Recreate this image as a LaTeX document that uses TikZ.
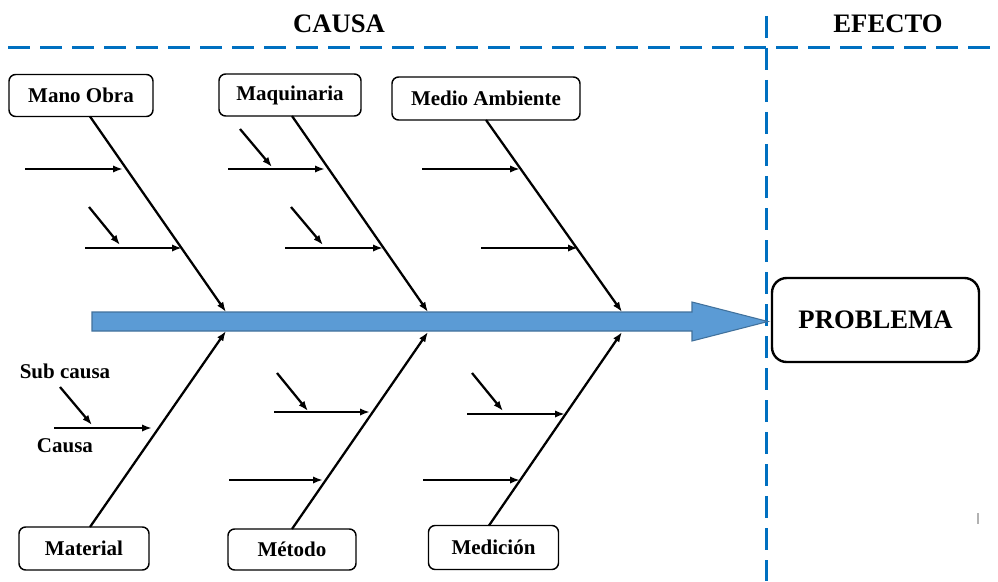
\documentclass[tikz,border=0pt]{standalone}
\usepackage{fontspec}
\setmainfont{Liberation Serif}
\usetikzlibrary{arrows.meta}
\definecolor{dblue}{RGB}{0,112,192}
\definecolor{afill}{RGB}{91,155,213}
\definecolor{aline}{RGB}{65,113,156}
\begin{document}
\begin{tikzpicture}[x=0.75pt,y=-0.75pt,
  box/.style={draw, line width=1.1pt, rounded corners=5pt, inner sep=0pt,
    font=\fontsize{15.75}{18}\selectfont\bfseries},
  bigbox/.style={draw, line width=1.8pt, rounded corners=11pt, inner sep=0pt,
    font=\fontsize{20}{24}\selectfont\bfseries},
  title/.style={font=\fontsize{20}{24}\selectfont\bfseries, inner sep=0pt},
  lbl/.style={font=\fontsize{15.75}{18}\selectfont\bfseries, inner sep=0pt},
  bone/.style={line width=1.7pt, -{Latex[length=7.5pt,width=5.5pt]}},
  dashline/.style={draw=dblue, line width=2.25pt, dash pattern=on 16.5pt off 7.5pt}]
\useasboundingbox (0,0) rectangle (998,581);

% dashed frame lines
\draw[dashline] (8,48) -- (998,48);
\draw[dashline] (766,16) -- (766,581);

% titles
\node[title] (causa) at (339,24) {CAUSA};
\node[title] (efecto) at (888,24) {EFECTO};

% main arrow
\coordinate (tip) at (768,321.5);
\draw[aline, fill=afill, line width=0.8pt]
  (92,312) -- (692,312) -- (692,302) -- (tip) -- (692,341) -- (692,331) -- (92,331) -- cycle;

% boxes
\node[box, minimum width=144*0.75pt, minimum height=42*0.75pt] (mano) at (81,95.5) {Mano Obra};
\node[box, minimum width=142*0.75pt, minimum height=42*0.75pt] (maq) at (290,95) {Maquinaria};
\node[box, minimum width=188*0.75pt, minimum height=43*0.75pt] (amb) at (486,98.5) {Medio Ambiente};
\node[box, minimum width=130*0.75pt, minimum height=43*0.75pt] (mat) at (84,548.5) {Material};
\node[box, minimum width=128*0.75pt, minimum height=41*0.75pt] (met) at (292,549.5) {Método};
\node[box, minimum width=130*0.75pt, minimum height=44*0.75pt] (med) at (493.5,547.5) {Medición};
\node[bigbox, minimum width=207*0.75pt, minimum height=84*0.75pt] (prob) at (875.5,320) {PROBLEMA};

% side labels
\node[lbl] (subcausa) at (65,371) {Sub causa};
\node[lbl] (causalbl) at (65,446) {Causa};

% bone coordinates
\coordinate (manoS) at (90,116.5);  \coordinate (manoE) at (226,312);
\coordinate (maqS) at (292,116);    \coordinate (maqE) at (428,312);
\coordinate (ambS) at (486,120);    \coordinate (ambE) at (622,312);
\coordinate (matS) at (90,527);     \coordinate (matE) at (226,331);
\coordinate (metS) at (292,529);    \coordinate (metE) at (428,332);
\coordinate (medS) at (489,525.5);  \coordinate (medE) at (622,332);

\foreach \b in {mano,maq,amb,mat,met,med}
  \draw[bone] (\b S) -- (\b E);

% branch coordinates
\coordinate (m1s) at (25,169);  \coordinate (m1e) at (123,169);
\coordinate (m2s) at (85,248);  \coordinate (m2e) at (182,248);
\coordinate (m3s) at (89,207);  \coordinate (m3e) at (120,245);
\coordinate (q1s) at (228,169); \coordinate (q1e) at (325,169);
\coordinate (q2s) at (240,129); \coordinate (q2e) at (272,167);
\coordinate (q3s) at (285,248); \coordinate (q3e) at (383,248);
\coordinate (q4s) at (291,207); \coordinate (q4e) at (323,245);
\coordinate (a1s) at (422,169); \coordinate (a1e) at (520,169);
\coordinate (a2s) at (481,248); \coordinate (a2e) at (578,248);
\coordinate (t1s) at (54,428);  \coordinate (t1e) at (152,428);
\coordinate (t2s) at (60,387);  \coordinate (t2e) at (92,425);
\coordinate (d1s) at (274,412); \coordinate (d1e) at (370,412);
\coordinate (d2s) at (277,373); \coordinate (d2e) at (308,411);
\coordinate (d3s) at (229,480); \coordinate (d3e) at (323,480);
\coordinate (c1s) at (467,414); \coordinate (c1e) at (565,414);
\coordinate (c2s) at (472,373); \coordinate (c2e) at (503,411);
\coordinate (c3s) at (423,480); \coordinate (c3e) at (520,480);

\foreach \a in {m1,m2,m3,q1,q2,q3,q4,a1,a2,t1,t2,d1,d2,d3,c1,c2,c3}
  \draw[bone] (\a s) -- (\a e);

% small grey mark
\draw[gray!60, line width=1pt] (978,513) -- (978,524);
\end{tikzpicture}
\end{document}
